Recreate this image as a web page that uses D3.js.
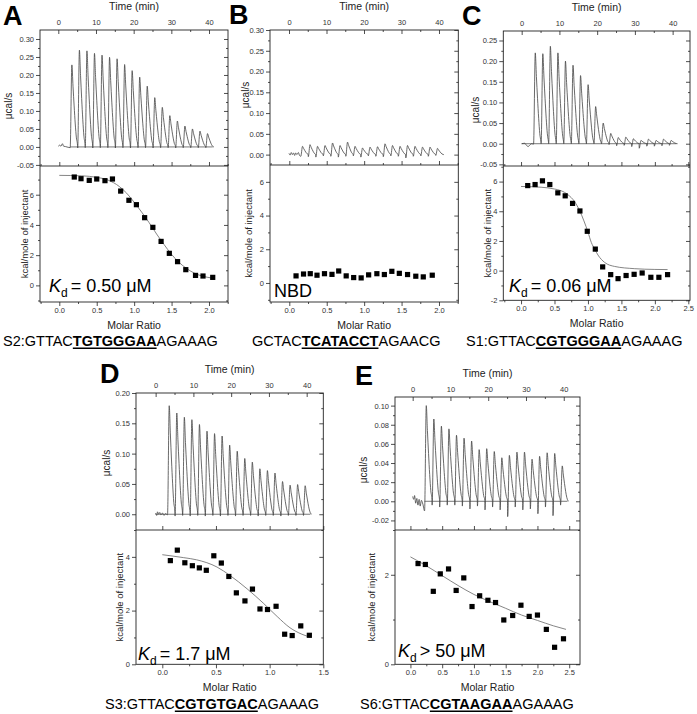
<!DOCTYPE html>
<html>
<head>
<meta charset="utf-8">
<script src="https://cdn.jsdelivr.net/npm/d3@7"></script>
<style>
  body { margin: 0; background: #fff; }
  svg { display: block; font-family: Arial, "Liberation Sans", sans-serif; }
</style>
</head>
<body>
<svg id="chart" width="697" height="714"></svg>
<script>
// injection peak times (min) - same protocol for every run
const injectTimes = [3.6, 5.6, 7.6, 9.6, 11.6, 13.6, 15.6, 17.6, 19.6, 21.6, 23.6, 25.6, 27.6, 29.6, 31.6, 33.6, 35.6, 37.6, 39.6];
const timeTicks = [0, 10, 20, 30, 40];
const timeMinor = [5, 15, 25, 35];
const molarMinor = [-0.25, 0.25, 0.75, 1.25, 1.75, 2.25];

// A
const peaksA = [0.228, 0.269, 0.267, 0.260, 0.255, 0.249, 0.245, 0.229, 0.212, 0.194, 0.169, 0.137, 0.110, 0.087, 0.072, 0.058, 0.050, 0.044, 0.037];
const dipsA = [-0.002, -0.003, -0.002, -0.003, -0.002, -0.002, -0.003, -0.002, -0.003, -0.002, -0.002, -0.003, -0.002, -0.002, -0.003, -0.002, -0.002, -0.002, -0.002];
const preA = [[0, 0.002], [0.4, 0.005], [0.7, 0.002], [1.1, 0.009], [1.4, 0.002], [1.9, 0.001], [2.6, -0.001]];
const molarA = [0.20, 0.29, 0.40, 0.50, 0.61, 0.71, 0.82, 0.93, 1.03, 1.14, 1.25, 1.36, 1.47, 1.58, 1.69, 1.82, 1.92, 2.05];
const heatA = [7.17, 7.06, 6.95, 7.04, 6.93, 7.04, 6.24, 5.63, 5.34, 4.48, 3.84, 2.91, 2.12, 1.57, 1.04, 0.66, 0.62, 0.53];
const fitMolarA = [0, 0.3, 0.5, 0.65, 0.8, 0.9, 1.0, 1.1, 1.2, 1.3, 1.4, 1.5, 1.6, 1.7, 1.8, 1.9, 2.05];
const fitHeatA = [7.28, 7.25, 7.15, 6.97, 6.55, 6.1, 5.5, 4.85, 4.15, 3.4, 2.7, 2.05, 1.52, 1.12, 0.82, 0.63, 0.48];

// B
const peaksB = [0.020, 0.024, 0.020, 0.022, 0.028, 0.022, 0.030, 0.020, 0.016, 0.018, 0.019, 0.026, 0.022, 0.020, 0.022, 0.020, 0.018, 0.018, 0.015];
const dipsB = [-0.004, -0.005, -0.006, -0.003, -0.004, -0.006, -0.004, -0.003, -0.006, -0.003, -0.004, -0.005, -0.003, -0.004, -0.008, -0.004, -0.003, -0.004, -0.002];
const preB = [[0, 0.003], [0.3, -0.001], [0.6, 0.005], [0.9, 0.0], [1.2, 0.004], [1.5, -0.002], [1.8, 0.004], [2.1, 0.0], [2.5, 0.005], [2.8, -0.002]];
const molarB = [0.09, 0.19, 0.28, 0.37, 0.47, 0.57, 0.66, 0.76, 0.86, 0.96, 1.06, 1.17, 1.27, 1.37, 1.47, 1.58, 1.69, 1.79, 1.91];
const heatB = [0.42, 0.53, 0.55, 0.46, 0.55, 0.51, 0.71, 0.42, 0.32, 0.30, 0.48, 0.55, 0.50, 0.69, 0.57, 0.50, 0.40, 0.36, 0.46];

// C
const peaksC = [0.220, 0.218, 0.236, 0.220, 0.200, 0.190, 0.165, 0.143, 0.090, 0.050, 0.025, 0.015, 0.016, 0.012, 0.008, 0.011, 0.008, 0.011, 0.008];
const dipsC = [-0.001, 0, 0, 0, 0, 0, 0, 0, 0, 0, -0.002, -0.005, -0.004, -0.007, -0.011, -0.006, -0.006, -0.005, -0.004];
const preC = [[0, 0.0], [0.8, 0.001], [1.2, -0.003], [1.7, -0.007], [2.1, -0.004], [2.6, 0.0]];
const molarC = [0.10, 0.21, 0.32, 0.43, 0.55, 0.66, 0.77, 0.88, 0.99, 1.11, 1.22, 1.34, 1.45, 1.57, 1.69, 1.81, 1.94, 2.06, 2.19];
const heatC = [5.73, 5.80, 6.05, 5.80, 5.24, 5.04, 4.53, 4.02, 2.65, 1.45, 0.25, -0.27, -0.54, -0.33, -0.25, -0.16, -0.45, -0.45, -0.27];
const fitMolarC = [0, 0.3, 0.5, 0.6, 0.7, 0.8, 0.88, 0.94, 1.0, 1.05, 1.1, 1.15, 1.25, 1.4, 1.7, 2.0, 2.19];
const fitHeatC = [5.67, 5.62, 5.5, 5.38, 5.12, 4.65, 4.0, 3.35, 2.6, 1.9, 1.45, 1.05, 0.55, 0.28, 0.13, 0.08, 0.07];

// D
const peaksD = [0.179, 0.167, 0.160, 0.156, 0.148, 0.137, 0.133, 0.129, 0.114, 0.104, 0.092, 0.086, 0.075, 0.072, 0.068, 0.054, 0.048, 0.049, 0.047];
const dipsD = [-0.001, -0.003, -0.002, -0.003, -0.002, -0.003, -0.002, -0.003, -0.002, -0.003, -0.002, -0.002, -0.003, -0.002, -0.002, -0.003, -0.002, -0.002, -0.002];
const preD = [[0, 0.002], [0.3, -0.002], [0.5, 0.004], [0.8, 0.0], [1.1, 0.003], [1.4, -0.001], [1.8, 0.002], [2.2, -0.002], [2.6, 0.001]];
const molarD = [0.075, 0.14, 0.21, 0.28, 0.345, 0.41, 0.48, 0.55, 0.62, 0.69, 0.77, 0.84, 0.91, 0.98, 1.06, 1.14, 1.21, 1.29, 1.37];
const heatD = [3.86, 4.25, 3.78, 3.67, 3.59, 3.50, 4.04, 3.77, 3.27, 2.66, 2.36, 2.80, 2.06, 2.04, 2.16, 1.12, 1.07, 1.43, 1.08];
const fitMolarD = [0, 0.2, 0.32, 0.51, 0.63, 0.79, 0.94, 1.07, 1.19, 1.3, 1.38];
const fitHeatD = [4.08, 3.97, 3.89, 3.62, 3.31, 2.81, 2.28, 1.78, 1.36, 1.12, 1.01];

// E
const peaksE = [0.100, 0.086, 0.0785, 0.0757, 0.069, 0.066, 0.063, 0.054, 0.055, 0.052, 0.0455, 0.048, 0.0514, 0.0514, 0.044, 0.047, 0.0507, 0.050, 0.037];
const dipsE = [-0.010, -0.004, -0.006, -0.004, -0.004, -0.005, -0.008, -0.005, -0.009, -0.006, -0.009, -0.016, -0.006, -0.009, -0.008, -0.013, -0.006, -0.015, -0.004];
const preE = [[0, 0.005], [0.3, 0.002], [0.5, 0.006], [0.8, -0.002], [1.1, 0.003], [1.4, -0.004], [1.7, 0.002], [2.0, -0.005], [2.3, 0.001], [2.7, -0.003]];
const molarE = [0.12, 0.235, 0.36, 0.47, 0.60, 0.72, 0.84, 0.97, 1.09, 1.22, 1.34, 1.47, 1.61, 1.74, 1.87, 2.00, 2.14, 2.27, 2.41];
const heatE = [2.25, 2.23, 1.63, 2.02, 2.13, 1.65, 1.93, 1.29, 1.53, 1.43, 1.38, 0.99, 1.09, 1.32, 1.07, 1.10, 0.78, 0.38, 0.57];
const fitMolarE = [0, 0.25, 0.5, 0.75, 1.0, 1.25, 1.5, 1.75, 2.0, 2.25, 2.45];
const fitHeatE = [2.40, 2.2, 1.98, 1.76, 1.56, 1.40, 1.25, 1.10, 0.98, 0.86, 0.78];

// peak outline: time offsets from each peak and fraction of its height
const shapeOffsets = [-0.45, 0, 0.3, 0.6, 0.9, 1.2, 1.5];
const shapeFrac = [0, 1, 0.74, 0.5, 0.28, 0.11, 0.02];

function buildTrace(pre, peaks, dips) {
  const pts = pre.slice();
  peaks.forEach((h, i) => {
    const t = injectTimes[i];
    shapeOffsets.forEach((o, k) => {
      pts.push([t + o, k === 0 ? dips[i] : h * shapeFrac[k]]);
    });
  });
  pts.push([41.3, 0]);
  return pts;
}

const panels = [
  {
    letter: 'A', lx: 3, ly: 25,
    x0: 40, x1: 228, yTop: 30, yMid: 166, yBot: 302,
    timeDomain: [-4.86, 45.04], molarDomain: [-0.258, 2.254],
    rateDomain: [-0.053, 0.325], heatDomain: [-1.1, 7.9],
    rateTicks: [-0.05, 0, 0.05, 0.10, 0.15, 0.20, 0.25, 0.30],
    rateMinor: [-0.025, 0.025, 0.075, 0.125, 0.175, 0.225, 0.275],
    heatTicks: [0, 2, 4, 6], heatMinor: [-1, 1, 3, 5, 7],
    molarTicks: [0, 0.5, 1.0, 1.5, 2.0],
    trace: buildTrace(preA, peaksA, dipsA), baseline: [3.1, 41],
    molar: molarA, heat: heatA, fitMolar: fitMolarA, fitHeat: fitHeatA,
    rateLabelX: 12, rateLabelY: 106, heatLabelX: 28.3,
    note: {x: 49, y: 292, kd: true, text: '= 0.50 μM'},
    seq: {x: 3, y: 346, pre: 'S2:GTTAC', core: 'TGTGGGAA', post: 'AGAAAG'}
  },
  {
    letter: 'B', lx: 229, ly: 24,
    x0: 270, x1: 458.3, yTop: 30, yMid: 165, yBot: 302,
    timeDomain: [-5.07, 45.15], molarDomain: [-0.258, 2.258],
    rateDomain: [-0.025, 0.30], heatDomain: [-1.13, 7.0],
    rateTicks: [0, 0.05, 0.10, 0.15, 0.20, 0.25, 0.30],
    rateMinor: [0.025, 0.075, 0.125, 0.175, 0.225, 0.275],
    heatTicks: [0, 2, 4, 6], heatMinor: [-1, 1, 3, 5],
    molarTicks: [0, 0.5, 1.0, 1.5, 2.0],
    trace: buildTrace(preB, peaksB, dipsB), baseline: null,
    molar: molarB, heat: heatB, fitMolar: null, fitHeat: null,
    rateLabelX: 249, rateLabelY: 95, heatLabelX: 252.3,
    note: {x: 274, y: 297, kd: false, text: 'NBD'},
    seq: {x: 252, y: 346, pre: 'GCTAC', core: 'TCATACCT', post: 'AGAACG'}
  },
  {
    letter: 'C', lx: 462, ly: 25,
    x0: 503.3, x1: 690, yTop: 31, yMid: 166, yBot: 300.3,
    timeDomain: [-4.87, 44.6], molarDomain: [-0.265, 2.525],
    rateDomain: [-0.054, 0.273], heatDomain: [-2, 7.05],
    rateTicks: [-0.05, 0, 0.05, 0.10, 0.15, 0.20, 0.25],
    rateMinor: [-0.025, 0.025, 0.075, 0.125, 0.175, 0.225],
    heatTicks: [-2, 0, 2, 4, 6], heatMinor: [-1, 1, 3, 5, 7],
    molarTicks: [0, 0.5, 1.0, 1.5, 2.0, 2.5],
    trace: buildTrace(preC, peaksC, dipsC), baseline: [0, 41],
    molar: molarC, heat: heatC, fitMolar: fitMolarC, fitHeat: fitHeatC,
    rateLabelX: 479, rateLabelY: 110, heatLabelX: 491.3,
    note: {x: 509, y: 292, kd: true, text: '= 0.06 μM'},
    seq: {x: 466, y: 346, pre: 'S1:GTTAC', core: 'CGTGGGAA', post: 'AGAAAG'}
  },
  {
    letter: 'D', lx: 100, ly: 383,
    x0: 136, x1: 323.3, yTop: 393, yMid: 530, yBot: 664.3,
    timeDomain: [-5.2, 44.4], molarDomain: [-0.245, 1.5],
    rateDomain: [-0.026, 0.20], heatDomain: [0, 5.0],
    rateTicks: [0, 0.05, 0.10, 0.15, 0.20],
    rateMinor: [0.025, 0.075, 0.125, 0.175],
    heatTicks: [0, 2, 4], heatMinor: [1, 3, 5],
    molarTicks: [0, 0.5, 1.0, 1.5],
    trace: buildTrace(preD, peaksD, dipsD), baseline: [0, 41],
    molar: molarD, heat: heatD, fitMolar: fitMolarD, fitHeat: fitHeatD,
    rateLabelX: 109.5, rateLabelY: 463, heatLabelX: 123.3,
    note: {x: 138, y: 660, kd: true, text: '= 1.7 μM'},
    seq: {x: 105, y: 709, pre: 'S3:GTTAC', core: 'CGTGTGAC', post: 'AGAAAG'}
  },
  {
    letter: 'E', lx: 355, ly: 385,
    x0: 395, x1: 580, yTop: 397, yMid: 530, yBot: 664.3,
    timeDomain: [-4.68, 44.3], molarDomain: [-0.243, 2.67],
    rateDomain: [-0.030, 0.109], heatDomain: [0, 3.0],
    rateTicks: [-0.02, 0, 0.02, 0.04, 0.06, 0.08, 0.10],
    rateMinor: [-0.01, 0.01, 0.03, 0.05, 0.07, 0.09],
    heatTicks: [0, 2], heatMinor: [1, 3],
    molarTicks: [0, 0.5, 1.0, 1.5, 2.0, 2.5],
    trace: buildTrace(preE, peaksE, dipsE), baseline: [3.1, 41],
    molar: molarE, heat: heatE, fitMolar: fitMolarE, fitHeat: fitHeatE,
    rateLabelX: 366.5, rateLabelY: 470, heatLabelX: 375.3,
    note: {x: 398, y: 657, kd: true, text: '> 50 μM'},
    seq: {x: 360, y: 709, pre: 'S6:GTTAC', core: 'CGTAAGAA', post: 'AGAAAG'}
  }
];

const svg = d3.select('#chart');
const ink = '#222';

function addAxis(parent, maker, scale, values, size, pad, transform, fmt) {
  const ax = maker(scale).tickValues(values).tickSize(size).tickSizeOuter(0).tickPadding(pad)
    .tickFormat(fmt || '');
  const g = parent.append('g').attr('transform', transform).call(ax)
    .attr('font-family', null).attr('font-size', null);
  g.select('.domain').remove();
  g.selectAll('line').attr('stroke', ink).attr('stroke-width', 0.8);
  g.selectAll('text').attr('font-size', 7.5).attr('fill', '#333');
  return g;
}

const inside = (vals, dom) => vals.filter(v => v >= dom[0] - 1e-6 && v <= dom[1] + 1e-6);

function drawPanel(p) {
  const g = svg.append('g');
  const xt = d3.scaleLinear().domain(p.timeDomain).range([p.x0, p.x1]);
  const xm = d3.scaleLinear().domain(p.molarDomain).range([p.x0, p.x1]);
  const yr = d3.scaleLinear().domain(p.rateDomain).range([p.yMid, p.yTop]);
  const yh = d3.scaleLinear().domain(p.heatDomain).range([p.yBot, p.yMid]);
  const f2 = d => d.toFixed(2);
  const f1 = d => d.toFixed(1);
  const f0 = d => d.toFixed(0);

  // thermogram
  const clipId = 'clip' + p.letter;
  g.append('clipPath').attr('id', clipId).append('rect')
    .attr('x', p.x0).attr('y', p.yTop).attr('width', p.x1 - p.x0).attr('height', p.yMid - p.yTop);
  if (p.baseline) {
    g.append('line')
      .attr('x1', xt(p.baseline[0])).attr('x2', xt(p.baseline[1]))
      .attr('y1', yr(0)).attr('y2', yr(0))
      .attr('stroke', '#555').attr('stroke-width', 0.8);
  }
  g.append('path')
    .datum(p.trace)
    .attr('clip-path', `url(#${clipId})`)
    .attr('fill', 'none')
    .attr('stroke', '#444')
    .attr('stroke-width', 0.8)
    .attr('d', d3.line().x(d => xt(d[0])).y(d => yr(d[1])).curve(d3.curveMonotoneX));

  // fit curve and integrated heats
  if (p.fitMolar) {
    g.append('path')
      .datum(p.fitMolar.map((m, i) => [m, p.fitHeat[i]]))
      .attr('fill', 'none')
      .attr('stroke', '#777')
      .attr('stroke-width', 0.9)
      .attr('d', d3.line().x(d => xm(d[0])).y(d => yh(d[1])).curve(d3.curveMonotoneX));
  }
  g.selectAll('rect.pt')
    .data(p.molar.map((m, i) => [m, p.heat[i]]))
    .enter()
    .append('rect')
    .attr('class', 'pt')
    .attr('x', d => xm(d[0]) - 2.6)
    .attr('y', d => yh(d[1]) - 2.6)
    .attr('width', 5.2)
    .attr('height', 5.2)
    .attr('fill', '#000');

  // frames
  g.append('rect').attr('x', p.x0).attr('y', p.yTop).attr('width', p.x1 - p.x0).attr('height', p.yBot - p.yTop)
    .attr('fill', 'none').attr('stroke', ink).attr('stroke-width', 0.9);
  g.append('line').attr('x1', p.x0).attr('x2', p.x1).attr('y1', p.yMid).attr('y2', p.yMid)
    .attr('stroke', ink).attr('stroke-width', 0.9);

  // top panel axes
  addAxis(g, d3.axisTop, xt, timeTicks, -4, 5, `translate(0,${p.yTop})`, f0);
  addAxis(g, d3.axisTop, xt, timeMinor, -2, 5, `translate(0,${p.yTop})`);
  addAxis(g, d3.axisLeft, yr, p.rateTicks, 4, 2, `translate(${p.x0},0)`, f2);
  addAxis(g, d3.axisLeft, yr, p.rateMinor, 2, 2, `translate(${p.x0},0)`);
  addAxis(g, d3.axisRight, yr, p.rateTicks, -4, 2, `translate(${p.x1},0)`);
  addAxis(g, d3.axisRight, yr, p.rateMinor, -2, 2, `translate(${p.x1},0)`);

  // bottom panel axes
  const mMinor = inside(molarMinor, p.molarDomain);
  addAxis(g, d3.axisBottom, xm, p.molarTicks, 4, 1.5, `translate(0,${p.yBot})`, f1);
  addAxis(g, d3.axisBottom, xm, mMinor, 2, 1.5, `translate(0,${p.yBot})`);
  addAxis(g, d3.axisBottom, xm, p.molarTicks, -4, 1.5, `translate(0,${p.yMid})`);
  addAxis(g, d3.axisBottom, xm, mMinor, -2, 1.5, `translate(0,${p.yMid})`);
  const hMinor = inside(p.heatMinor, p.heatDomain);
  addAxis(g, d3.axisLeft, yh, p.heatTicks, 4, 2, `translate(${p.x0},0)`, f0);
  addAxis(g, d3.axisLeft, yh, hMinor, 2, 2, `translate(${p.x0},0)`);
  addAxis(g, d3.axisRight, yh, p.heatTicks, -4, 2, `translate(${p.x1},0)`);
  addAxis(g, d3.axisRight, yh, hMinor, -2, 2, `translate(${p.x1},0)`);

  // titles
  const cx = (p.x0 + p.x1) / 2;
  g.append('text').attr('x', cx).attr('y', p.yTop - 20).attr('text-anchor', 'middle')
    .attr('font-size', 10.5).attr('fill', '#222').text('Time (min)');
  g.append('text').attr('x', cx).attr('y', p.yBot + 27).attr('text-anchor', 'middle')
    .attr('font-size', 10.5).attr('fill', '#222').text('Molar Ratio');
  g.append('text').attr('transform', `translate(${p.rateLabelX},${p.rateLabelY}) rotate(-90)`)
    .attr('text-anchor', 'middle').attr('font-size', 10).attr('fill', '#222').text('μcal/s');
  g.append('text').attr('transform', `translate(${p.heatLabelX},${(p.yMid + p.yBot) / 2}) rotate(-90)`)
    .attr('text-anchor', 'middle').attr('font-size', 9.5).attr('fill', '#222').text('kcal/mole of injectant');

  // panel letter
  g.append('text').attr('x', p.lx).attr('y', p.ly).attr('font-size', 27).attr('font-weight', 'bold')
    .attr('fill', '#000').text(p.letter);

  // Kd / NBD note
  const note = g.append('text').attr('x', p.note.x).attr('y', p.note.y).attr('font-size', 18).attr('fill', '#000');
  if (p.note.kd) {
    note.append('tspan').attr('font-style', 'italic').text('K');
    note.append('tspan').attr('font-size', 12).attr('dy', 5).text('d');
    note.append('tspan').attr('dy', -5).attr('dx', 3).text(p.note.text);
  } else {
    note.text(p.note.text);
  }

  // sequence with bold underlined core
  const seq = g.append('text').attr('x', p.seq.x).attr('y', p.seq.y).attr('font-size', 14.5).attr('fill', '#000');
  seq.append('tspan').text(p.seq.pre);
  seq.append('tspan').attr('font-weight', 'bold').text(p.seq.core);
  seq.append('tspan').text(p.seq.post);
  const node = seq.node();
  const start = p.seq.x + node.getSubStringLength(0, p.seq.pre.length);
  const width = node.getSubStringLength(p.seq.pre.length, p.seq.core.length);
  g.append('line').attr('x1', start).attr('x2', start + width)
    .attr('y1', p.seq.y + 2.2).attr('y2', p.seq.y + 2.2)
    .attr('stroke', '#000').attr('stroke-width', 1.6);
}

panels.forEach(drawPanel);
</script>
</body>
</html>
